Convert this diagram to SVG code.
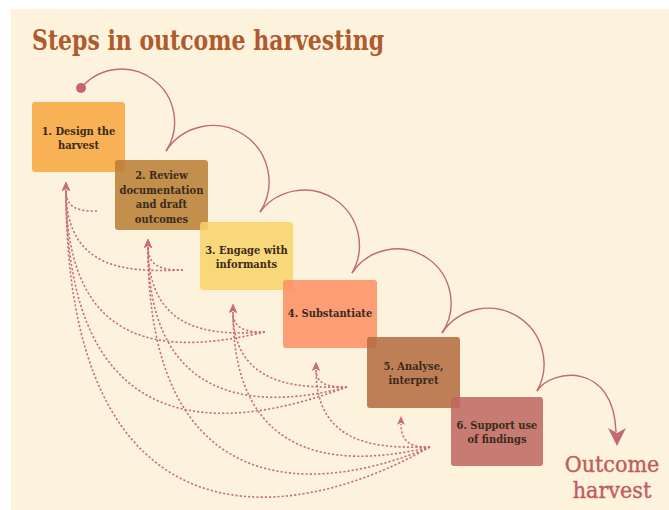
<svg xmlns="http://www.w3.org/2000/svg" width="669" height="510" viewBox="0 0 669 510">
<defs>
<style>
.bg{fill:#fdf3dc}
.title{font-family:"DejaVu Serif Condensed","DejaVu Serif",serif;font-size:27px;font-weight:bold;fill:#b05a2f}
.box{stroke:none;opacity:0.86}
.lbl{font-family:"DejaVu Serif Condensed","DejaVu Serif",serif;font-size:11px;font-weight:bold;fill:#3b2a1c;text-anchor:middle}
.arc{fill:none;stroke:#c26a6e;stroke-width:1.4}
.dot{fill:none;stroke:#c96f75;stroke-width:1.6;stroke-dasharray:2.2 2;marker-end:url(#ah)}
.out{font-family:"DejaVu Serif Condensed","DejaVu Serif",serif;font-size:23px;fill:#bf5d5d;text-anchor:middle;stroke:#bf5d5d;stroke-width:0.4}
</style>
<marker id="ah" viewBox="0 0 10 10" refX="1" refY="5" markerWidth="9" markerHeight="9" markerUnits="userSpaceOnUse" orient="auto">
<path d="M0,0.5 L10,5 L0,9.5 L2.5,5 z" fill="#c96f75"/>
</marker>
</defs>
<rect x="0" y="0" width="669" height="510" fill="#ffffff"/>
<rect class="bg" x="11" y="9" width="658" height="501"/>
<text class="title" x="32" y="50" textLength="352" lengthAdjust="spacingAndGlyphs">Steps in outcome harvesting</text>

<g id="connectors">
<circle cx="81" cy="88" r="5" fill="#c4686e"/>
<path class="arc" d="M81,88 A53,53 0 0 1 166,151"/>
<path class="arc" d="M166,151 A56,56 0 0 1 260,212"/>
<path class="arc" d="M260,212 A55.3,55.3 0 0 1 352,273"/>
<path class="arc" d="M352,273 A54,54 0 0 1 442,333"/>
<path class="arc" d="M442,333 A55.7,55.7 0 0 1 537,391"/>
<path class="arc" d="M537,391 C552,368 614,362 616,432"/>
<path d="M617,446 L608,428 L617,433 L626,428 z" fill="#c26a6e"/>

<path class="dot" d="M97,211 C83,211 66,211 66,190"/>
<path class="dot" d="M183,270 C130,272 66,272 66,190"/>
<path class="dot" d="M265,332 C175,353 66,358 66,190"/>
<path class="dot" d="M347,387 C221,434 66,444 66,190"/>
<path class="dot" d="M430,447 C284,530 66,549 66,190"/>

<path class="dot" d="M183,270 C169,270 148,270 148,247"/>
<path class="dot" d="M265,332 C218,335 148,336 148,247"/>
<path class="dot" d="M347,387 C267,408 148,412 148,247"/>
<path class="dot" d="M430,447 C317,495 148,506 148,247"/>

<path class="dot" d="M265,332 C252,332 233,332 233,312"/>
<path class="dot" d="M347,387 C301,388 233,388 233,312"/>
<path class="dot" d="M430,447 C351,466 233,470 233,312"/>

<path class="dot" d="M347,387 C335,387 316,387 316,370"/>
<path class="dot" d="M430,447 C384,448 316,449 316,370"/>

<path class="dot" d="M430,447 C418,447 401,447 401,424"/>
</g>

<g id="step1">
<rect class="box" x="32" y="102" width="93" height="70" rx="3" fill="#f8a53f"/>
<text class="lbl" x="78.5" y="134.5">1. Design the</text>
<text class="lbl" x="78.5" y="148.5">harvest</text>
</g>
<g id="step2">
<rect class="box" x="115" y="160" width="93" height="70" rx="3" fill="#b97e36"/>
<text class="lbl" x="161.5" y="179">2. Review</text>
<text class="lbl" x="161.5" y="194">documentation</text>
<text class="lbl" x="161.5" y="208">and draft</text>
<text class="lbl" x="161.5" y="222.5">outcomes</text>
</g>
<g id="step3">
<rect class="box" x="200" y="222" width="93" height="68" rx="3" fill="#f7d369"/>
<text class="lbl" x="246.5" y="253.5">3. Engage with</text>
<text class="lbl" x="246.5" y="267.5">informants</text>
</g>
<g id="step4">
<rect class="box" x="283" y="280" width="94" height="68" rx="3" fill="#fb8e65"/>
<text class="lbl" x="330" y="316.5">4. Substantiate</text>
</g>
<g id="step5">
<rect class="box" x="367" y="337" width="93" height="71" rx="3" fill="#b56b40"/>
<text class="lbl" x="413.5" y="370">5. Analyse,</text>
<text class="lbl" x="413.5" y="384">interpret</text>
</g>
<g id="step6">
<rect class="box" x="451" y="397" width="92" height="69" rx="3" fill="#bf6761"/>
<text class="lbl" x="497" y="429">6. Support use</text>
<text class="lbl" x="497" y="443">of findings</text>
</g>
<g id="outcome">
<text class="out" x="612" y="472">Outcome</text>
<text class="out" x="612" y="498">harvest</text>
</g>
</svg>
